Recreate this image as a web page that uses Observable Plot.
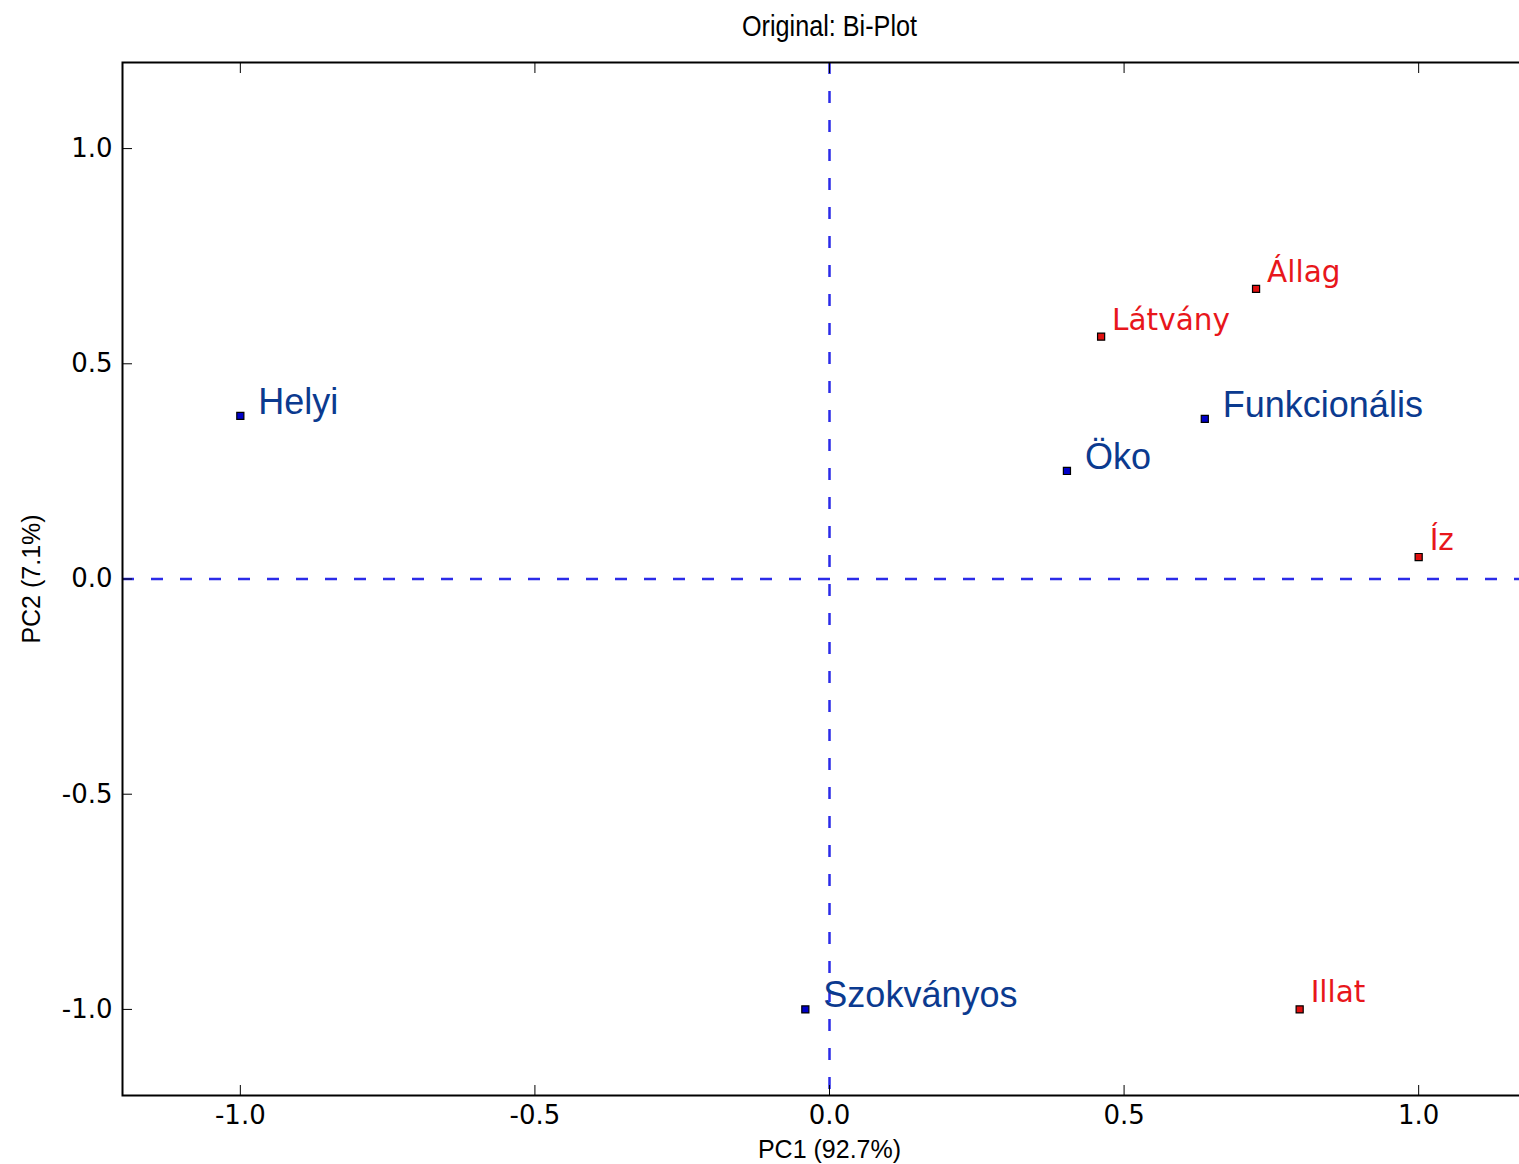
<!DOCTYPE html>
<html><head><meta charset="utf-8">
<script src="https://cdn.jsdelivr.net/npm/d3@7"></script>
<script src="https://cdn.jsdelivr.net/npm/@observablehq/plot@0.6"></script>
<style>html,body{margin:0;padding:0;background:#fff;overflow:hidden;} svg{max-width:none !important;}</style>
</head><body><div id="chart"></div>
<script>
// Products (blue)
const products = ["Helyi", "Szokványos", "Öko", "Funkcionális"];
const productX = [-1.0, -0.041, 0.403, 0.637];
const productY = [0.379, -1.0, 0.251, 0.372];
// Attributes (red)
const attributes = ["Látvány", "Állag", "Íz", "Illat"];
const attrX = [0.461, 0.724, 1.0, 0.798];
const attrY = [0.563, 0.674, 0.051, -1.0];
// Axes
const xTicks = [-1.0, -0.5, 0.0, 0.5, 1.0];
const yTicks = [-1.0, -0.5, 0.0, 0.5, 1.0];
const tickLabels = ["-1.0", "-0.5", "0.0", "0.5", "1.0"];
const title = "Original: Bi-Plot";
const xLabel = "PC1 (92.7%)";
const yLabel = "PC2 (7.1%)";

const productRows = products.map((name, i) => ({name, x: productX[i], y: productY[i]}));
const attrRows = attributes.map((name, i) => ({name, x: attrX[i], y: attrY[i]}));
const fmtX = d => tickLabels[xTicks.indexOf(d)];
const fmtY = d => tickLabels[yTicks.indexOf(d)];

const dash = {stroke: "#2b2be8", strokeWidth: 2.5, strokeDasharray: "12,17"};

const chart = Plot.plot({
  width: 1556,
  height: 1164,
  marginLeft: 122,
  marginRight: 20,
  marginTop: 62,
  marginBottom: 69,
  x: {domain: [-1.2, 1.2], label: null},
  y: {domain: [-1.2, 1.2], label: null},
  style: {fontFamily: "DejaVu Sans", background: "white", color: "black", overflow: "visible", maxWidth: "none"},
  marks: [
    Plot.ruleX([0], dash),
    Plot.ruleY([0], dash),
    Plot.frame({stroke: "black", strokeWidth: 2}),
    Plot.axisX({anchor: "bottom", ticks: xTicks, tickSize: -10, tickPadding: 20, tickFormat: fmtX, fontSize: 26, label: null}),
    Plot.axisX({anchor: "top", ticks: xTicks, tickSize: -10, tickFormat: () => "", label: null}),
    Plot.axisY({anchor: "left", ticks: yTicks, tickSize: -10, tickPadding: 20, tickFormat: fmtY, fontSize: 26, label: null}),
    Plot.axisY({anchor: "right", ticks: yTicks, tickSize: -10, tickFormat: () => "", label: null}),
    Plot.dot(productRows, {x: "x", y: "y", symbol: "square", r: 4, fill: "#0000c8", stroke: "black", strokeWidth: 1.2}),
    Plot.dot(attrRows, {x: "x", y: "y", symbol: "square", r: 4, fill: "#e01010", stroke: "black", strokeWidth: 1.2}),
    Plot.text(productRows, {x: "x", y: "y", text: "name", textAnchor: "start", lineAnchor: "bottom", dx: 18, dy: -2, fontSize: 36, fontFamily: "Liberation Sans", fill: "#0b3a8f"}),
    Plot.text(attrRows, {x: "x", y: "y", text: "name", textAnchor: "start", lineAnchor: "bottom", dx: 11, dy: -7, fontSize: 29.5, fontFamily: "DejaVu Sans", fill: "#e8161b"}),
    Plot.text([title], {text: d => d, frameAnchor: "top", textAnchor: "middle", lineAnchor: "bottom", dy: -27, fontSize: 30, fontFamily: "Liberation Sans", fill: "black"}),
    Plot.text([xLabel], {text: d => d, frameAnchor: "bottom", textAnchor: "middle", lineAnchor: "bottom", dy: 62, fontSize: 25, fontFamily: "Liberation Sans", fill: "black"}),
    Plot.text([yLabel], {text: d => d, frameAnchor: "left", textAnchor: "middle", lineAnchor: "bottom", rotate: -90, dx: -83, fontSize: 25, fontFamily: "Liberation Sans", fill: "black"})
  ]
});

d3.select(chart).selectAll("text").each(function() {
  if (this.textContent === title) d3.select(this).attr("textLength", 175).attr("lengthAdjust", "spacingAndGlyphs");
});
document.getElementById("chart").appendChild(chart);
</script>
</body></html>
